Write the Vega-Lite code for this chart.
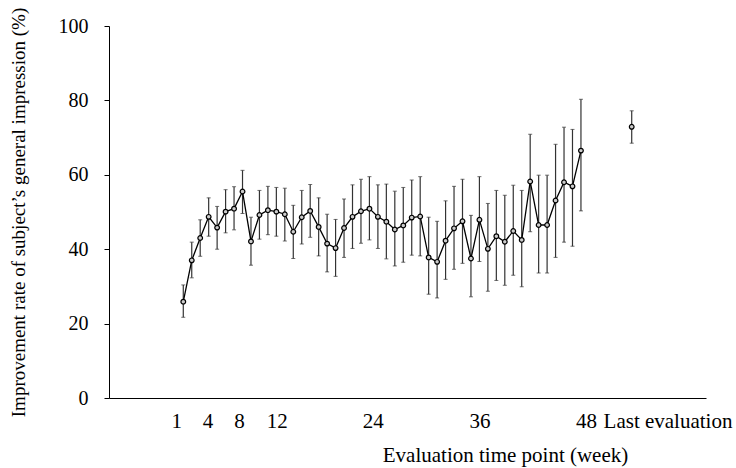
{
  "$schema": "https://vega.github.io/schema/vega-lite/v6.json",
  "autosize": "none",
  "width": 597,
  "height": 372,
  "padding": {"left": 109, "top": 26, "right": 30, "bottom": 70},
  "background": "white",
  "config": {
    "view": {"stroke": null},
    "font": "Liberation Serif",
    "axis": {"labelFont": "Liberation Serif", "titleFont": "Liberation Serif", "labelColor": "black", "titleColor": "black", "domainColor": "black", "tickColor": "black", "titleFontWeight": "normal", "grid": false}
  },
  "data": {
    "values": [
      {"week": 1, "rate": 25.9, "lower": 21.7, "upper": 30.4, "type": "weekly"},
      {"week": 2, "rate": 37.0, "lower": 32.3, "upper": 41.9, "type": "weekly"},
      {"week": 3, "rate": 43.0, "lower": 38.1, "upper": 47.9, "type": "weekly"},
      {"week": 4, "rate": 48.7, "lower": 43.5, "upper": 53.8, "type": "weekly"},
      {"week": 5, "rate": 45.8, "lower": 40.0, "upper": 51.5, "type": "weekly"},
      {"week": 6, "rate": 50.1, "lower": 44.4, "upper": 56.0, "type": "weekly"},
      {"week": 7, "rate": 50.9, "lower": 45.2, "upper": 56.8, "type": "weekly"},
      {"week": 8, "rate": 55.5, "lower": 49.6, "upper": 61.2, "type": "weekly"},
      {"week": 9, "rate": 42.1, "lower": 35.7, "upper": 48.6, "type": "weekly"},
      {"week": 10, "rate": 49.2, "lower": 42.7, "upper": 55.8, "type": "weekly"},
      {"week": 11, "rate": 50.5, "lower": 43.9, "upper": 56.9, "type": "weekly"},
      {"week": 12, "rate": 50.1, "lower": 43.5, "upper": 56.6, "type": "weekly"},
      {"week": 13, "rate": 49.4, "lower": 42.2, "upper": 56.4, "type": "weekly"},
      {"week": 14, "rate": 44.7, "lower": 37.5, "upper": 51.8, "type": "weekly"},
      {"week": 15, "rate": 48.6, "lower": 41.4, "upper": 55.8, "type": "weekly"},
      {"week": 16, "rate": 50.3, "lower": 43.2, "upper": 57.4, "type": "weekly"},
      {"week": 17, "rate": 46.0, "lower": 38.2, "upper": 53.8, "type": "weekly"},
      {"week": 18, "rate": 41.5, "lower": 33.9, "upper": 49.4, "type": "weekly"},
      {"week": 19, "rate": 40.3, "lower": 32.7, "upper": 48.0, "type": "weekly"},
      {"week": 20, "rate": 45.7, "lower": 37.8, "upper": 53.5, "type": "weekly"},
      {"week": 21, "rate": 48.7, "lower": 40.2, "upper": 57.3, "type": "weekly"},
      {"week": 22, "rate": 50.2, "lower": 41.6, "upper": 58.8, "type": "weekly"},
      {"week": 23, "rate": 50.9, "lower": 42.5, "upper": 59.5, "type": "weekly"},
      {"week": 24, "rate": 48.7, "lower": 40.2, "upper": 57.3, "type": "weekly"},
      {"week": 25, "rate": 47.4, "lower": 37.4, "upper": 57.5, "type": "weekly"},
      {"week": 26, "rate": 45.3, "lower": 35.5, "upper": 55.6, "type": "weekly"},
      {"week": 27, "rate": 46.4, "lower": 36.5, "upper": 56.6, "type": "weekly"},
      {"week": 28, "rate": 48.5, "lower": 38.4, "upper": 58.6, "type": "weekly"},
      {"week": 29, "rate": 48.8, "lower": 38.2, "upper": 59.5, "type": "weekly"},
      {"week": 30, "rate": 37.8, "lower": 27.9, "upper": 48.6, "type": "weekly"},
      {"week": 31, "rate": 36.6, "lower": 26.9, "upper": 47.5, "type": "weekly"},
      {"week": 32, "rate": 42.3, "lower": 31.9, "upper": 53.0, "type": "weekly"},
      {"week": 33, "rate": 45.6, "lower": 34.6, "upper": 56.9, "type": "weekly"},
      {"week": 34, "rate": 47.5, "lower": 36.2, "upper": 58.8, "type": "weekly"},
      {"week": 35, "rate": 37.5, "lower": 27.2, "upper": 49.1, "type": "weekly"},
      {"week": 36, "rate": 47.9, "lower": 36.7, "upper": 59.5, "type": "weekly"},
      {"week": 37, "rate": 40.1, "lower": 28.7, "upper": 52.3, "type": "weekly"},
      {"week": 38, "rate": 43.5, "lower": 31.6, "upper": 55.8, "type": "weekly"},
      {"week": 39, "rate": 42.0, "lower": 30.3, "upper": 54.5, "type": "weekly"},
      {"week": 40, "rate": 44.9, "lower": 33.0, "upper": 57.2, "type": "weekly"},
      {"week": 41, "rate": 42.5, "lower": 29.9, "upper": 55.8, "type": "weekly"},
      {"week": 42, "rate": 58.2, "lower": 44.7, "upper": 70.9, "type": "weekly"},
      {"week": 43, "rate": 46.5, "lower": 33.6, "upper": 59.9, "type": "weekly"},
      {"week": 44, "rate": 46.5, "lower": 33.6, "upper": 59.9, "type": "weekly"},
      {"week": 45, "rate": 53.1, "lower": 37.8, "upper": 68.2, "type": "weekly"},
      {"week": 46, "rate": 58.0, "lower": 41.9, "upper": 72.8, "type": "weekly"},
      {"week": 47, "rate": 56.9, "lower": 40.8, "upper": 72.2, "type": "weekly"},
      {"week": 48, "rate": 66.5, "lower": 50.3, "upper": 80.3, "type": "weekly"},
      {"week": 54, "rate": 72.9, "lower": 68.5, "upper": 77.2, "type": "last"}
    ]
  },
  "encoding": {
    "x": {
      "field": "week",
      "type": "quantitative",
      "scale": {"domain": [-7.78, 62.78], "nice": false, "zero": false},
      "axis": {
        "title": "Evaluation time point (week)",
        "titleFontSize": 21,
        "titleX": 396,
        "titleY": 57,
        "titleBaseline": "middle",
        "values": [0.17, 3.86, 7.58, 12.04, 23.39, 36.01, 48.6, 58.23],
        "labelExpr": "datum.value < 2 ? '1' : datum.value < 5 ? '4' : datum.value < 10 ? '8' : datum.value < 15 ? '12' : datum.value < 30 ? '24' : datum.value < 40 ? '36' : datum.value < 50 ? '48' : 'Last evaluation'",
        "labelFontSize": 21,
        "labelOverlap": false,
        "labelFlush": false,
        "labelBound": false,
        "labelPadding": 12,
        "ticks": false
      }
    }
  },
  "layer": [
    {
      "mark": {"type": "rule", "color": "#333333", "strokeWidth": 1.2},
      "encoding": {
        "y": {
          "field": "lower",
          "type": "quantitative",
          "scale": {"domain": [0, 100], "nice": false},
          "axis": {
            "title": "Improvement rate of subject’s general impression (%)",
            "titleFontSize": 19,
            "titlePadding": 30,
            "values": [0, 10, 20, 30, 40, 50, 60, 70, 80, 90, 100],
            "labelExpr": "datum.value % 20 == 0 ? datum.label : ''",
            "labelFontSize": 20,
            "labelPadding": 16,
            "tickSize": 5
          }
        },
        "y2": {"field": "upper"}
      }
    },
    {
      "mark": {"type": "tick", "orient": "horizontal", "size": 4, "thickness": 1, "color": "#333333"},
      "encoding": {"y": {"field": "lower", "type": "quantitative"}}
    },
    {
      "mark": {"type": "tick", "orient": "horizontal", "size": 4, "thickness": 1, "color": "#333333"},
      "encoding": {"y": {"field": "upper", "type": "quantitative"}}
    },
    {
      "transform": [{"filter": "datum.type == 'weekly'"}],
      "mark": {"type": "line", "color": "black", "strokeWidth": 1.3},
      "encoding": {"y": {"field": "rate", "type": "quantitative"}}
    },
    {
      "mark": {"type": "point", "shape": "circle", "size": 22, "filled": true, "fill": "#cccccc", "stroke": "black", "strokeWidth": 1.2, "opacity": 1},
      "encoding": {"y": {"field": "rate", "type": "quantitative"}}
    }
  ]
}
